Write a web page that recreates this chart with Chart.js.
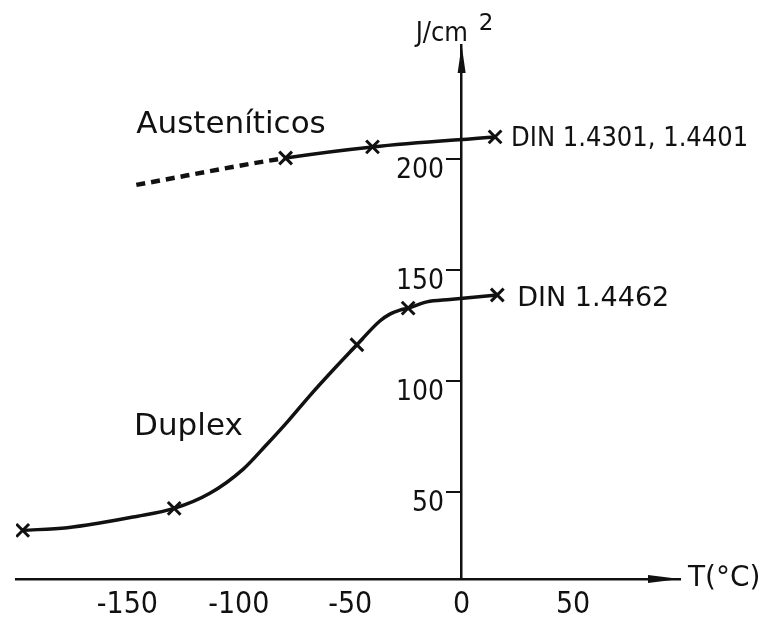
<!DOCTYPE html>
<html>
<head>
<meta charset="utf-8">
<script src="https://cdn.jsdelivr.net/npm/chart.js@4"></script>
<style>
  html, body { margin: 0; padding: 0; background: #fff; }
  #box { width: 771px; height: 624px; }
</style>
</head>
<body>
<div id="box"><canvas id="grafico"></canvas></div>
<script>
// eixo T (°C) e energia (J/cm2)
const xTicks = [-150, -100, -50, 0, 50];
const yTicks = [50, 100, 150, 200];

// curva Duplex e pontos marcados
const duplexT = [-197, -177, -162.5, -147.5, -129, -113, -98, -88, -78, -68.2, -57.8, -47, -36.7, -32.2, -27.7, -24, -15.6, -5.3, 16];
const duplexE = [32.9, 34.1, 36.2, 38.9, 42.8, 49.6, 60.5, 71, 82, 93.5, 105, 116.5, 127.2, 130.3, 132.1, 133, 135.8, 136.9, 138.9];
const duplexMarkT = [-197, -129, -47, -24, 16];
const duplexMarkE = [32.9, 42.8, 116.5, 133, 138.9];

// austeníticos: primeiro trecho tracejado
const austT = [-146, -79, -40, 15];
const austE = [188.5, 200.6, 205.6, 210.1];
const austMarkT = [-79, -40, 15];
const austMarkE = [200.6, 205.6, 210.1];

const yMin = 11;
const tinta = "#111";
const fonte = "'DejaVu Sans', sans-serif";
const fonteEstreita = "'DejaVu Sans Condensed', 'DejaVu Sans', sans-serif";

const pares = (xs, ys) => xs.map((v, i) => ({ x: v, y: ys[i] }));

const anotacoes = {
  id: "anotacoes",
  afterDraw(chart) {
    const { ctx, chartArea } = chart;
    const sx = chart.scales.x;
    const sy = chart.scales.y;
    const x0 = sx.getPixelForValue(0);
    const yb = sy.getPixelForValue(yMin);

    ctx.save();
    ctx.fillStyle = tinta;

    // setas dos eixos
    ctx.beginPath();
    ctx.moveTo(chartArea.right, yb);
    ctx.lineTo(chartArea.right - 32, yb - 4);
    ctx.lineTo(chartArea.right - 32, yb + 4);
    ctx.closePath();
    ctx.fill();

    ctx.beginPath();
    ctx.moveTo(x0, chartArea.top);
    ctx.lineTo(x0 - 4, chartArea.top + 28);
    ctx.lineTo(x0 + 4, chartArea.top + 28);
    ctx.closePath();
    ctx.fill();

    // títulos dos eixos
    ctx.textBaseline = "middle";
    ctx.textAlign = "left";
    ctx.font = "28px " + fonte;
    ctx.fillText("T(°C)", chartArea.right + 8, yb);

    ctx.textBaseline = "alphabetic";
    ctx.font = "27px " + fonteEstreita;
    ctx.fillText("J/cm", x0 - 46, 41);
    ctx.font = "23px " + fonte;
    ctx.fillText("2", x0 + 17, 30);

    // nomes das curvas
    ctx.font = "31px " + fonte;
    ctx.fillText("Austeníticos", sx.getPixelForValue(-146), sy.getPixelForValue(212));
    ctx.fillText("Duplex", sx.getPixelForValue(-147), sy.getPixelForValue(76));

    ctx.textBaseline = "middle";
    const ua = austT.length - 1;
    ctx.font = "27px " + fonteEstreita;
    ctx.fillText("DIN 1.4301, 1.4401", sx.getPixelForValue(austT[ua]) + 16, sy.getPixelForValue(austE[ua]) + 2);
    const ud = duplexT.length - 1;
    ctx.font = "27px " + fonte;
    ctx.fillText("DIN 1.4462", sx.getPixelForValue(duplexT[ud]) + 20, sy.getPixelForValue(duplexE[ud]) + 4);

    ctx.restore();
  },
};

const marcas = {
  type: "scatter",
  showLine: false,
  pointStyle: "crossRot",
  pointRadius: 9,
  borderColor: tinta,
  pointBorderWidth: 3,
};

new Chart(document.getElementById("grafico"), {
  type: "line",
  data: {
    datasets: [
      {
        label: "Duplex",
        data: pares(duplexT, duplexE),
        borderColor: tinta,
        borderWidth: 3.5,
        pointRadius: 0,
        cubicInterpolationMode: "monotone",
      },
      {
        label: "Austeníticos",
        data: pares(austT, austE),
        borderColor: tinta,
        borderWidth: 3.5,
        pointRadius: 0,
        cubicInterpolationMode: "monotone",
        segment: {
          borderDash: (c) => (c.p0DataIndex === 0 ? [9, 6] : undefined),
          borderWidth: (c) => (c.p0DataIndex === 0 ? 4.5 : 3.5),
        },
      },
      { ...marcas, label: "pontos duplex", data: pares(duplexMarkT, duplexMarkE) },
      { ...marcas, label: "pontos austeníticos", data: pares(austMarkT, austMarkE) },
    ],
  },
  options: {
    responsive: true,
    maintainAspectRatio: false,
    animation: false,
    layout: { padding: { left: 16, right: 91, top: 45, bottom: 45 } },
    plugins: {
      legend: { display: false },
      tooltip: { enabled: false },
    },
    scales: {
      x: {
        type: "linear",
        min: -200,
        max: 98,
        position: { y: yMin },
        afterBuildTicks: (s) => { s.ticks = xTicks.map((v) => ({ value: v })); },
        grid: { display: false, drawTicks: false },
        border: { display: true, color: tinta, width: 2.5 },
        ticks: { color: tinta, font: { family: fonteEstreita, size: 30 }, padding: 8 },
      },
      y: {
        type: "linear",
        min: yMin,
        max: 251.5,
        position: { x: 0 },
        afterBuildTicks: (s) => { s.ticks = yTicks.map((v) => ({ value: v })); },
        grid: { drawOnChartArea: false, drawTicks: true, tickLength: 14, color: tinta, lineWidth: 2 },
        border: { display: true, color: tinta, width: 2.5 },
        ticks: {
          color: tinta,
          font: { family: fonteEstreita, size: 28 },
          labelOffset: 11,
          // o rótulo fica encostado no eixo; espaço para a marca do tick
          callback: (v) => v + "\u2002\u2009",
        },
      },
    },
  },
  plugins: [anotacoes],
});
</script>
</body>
</html>
